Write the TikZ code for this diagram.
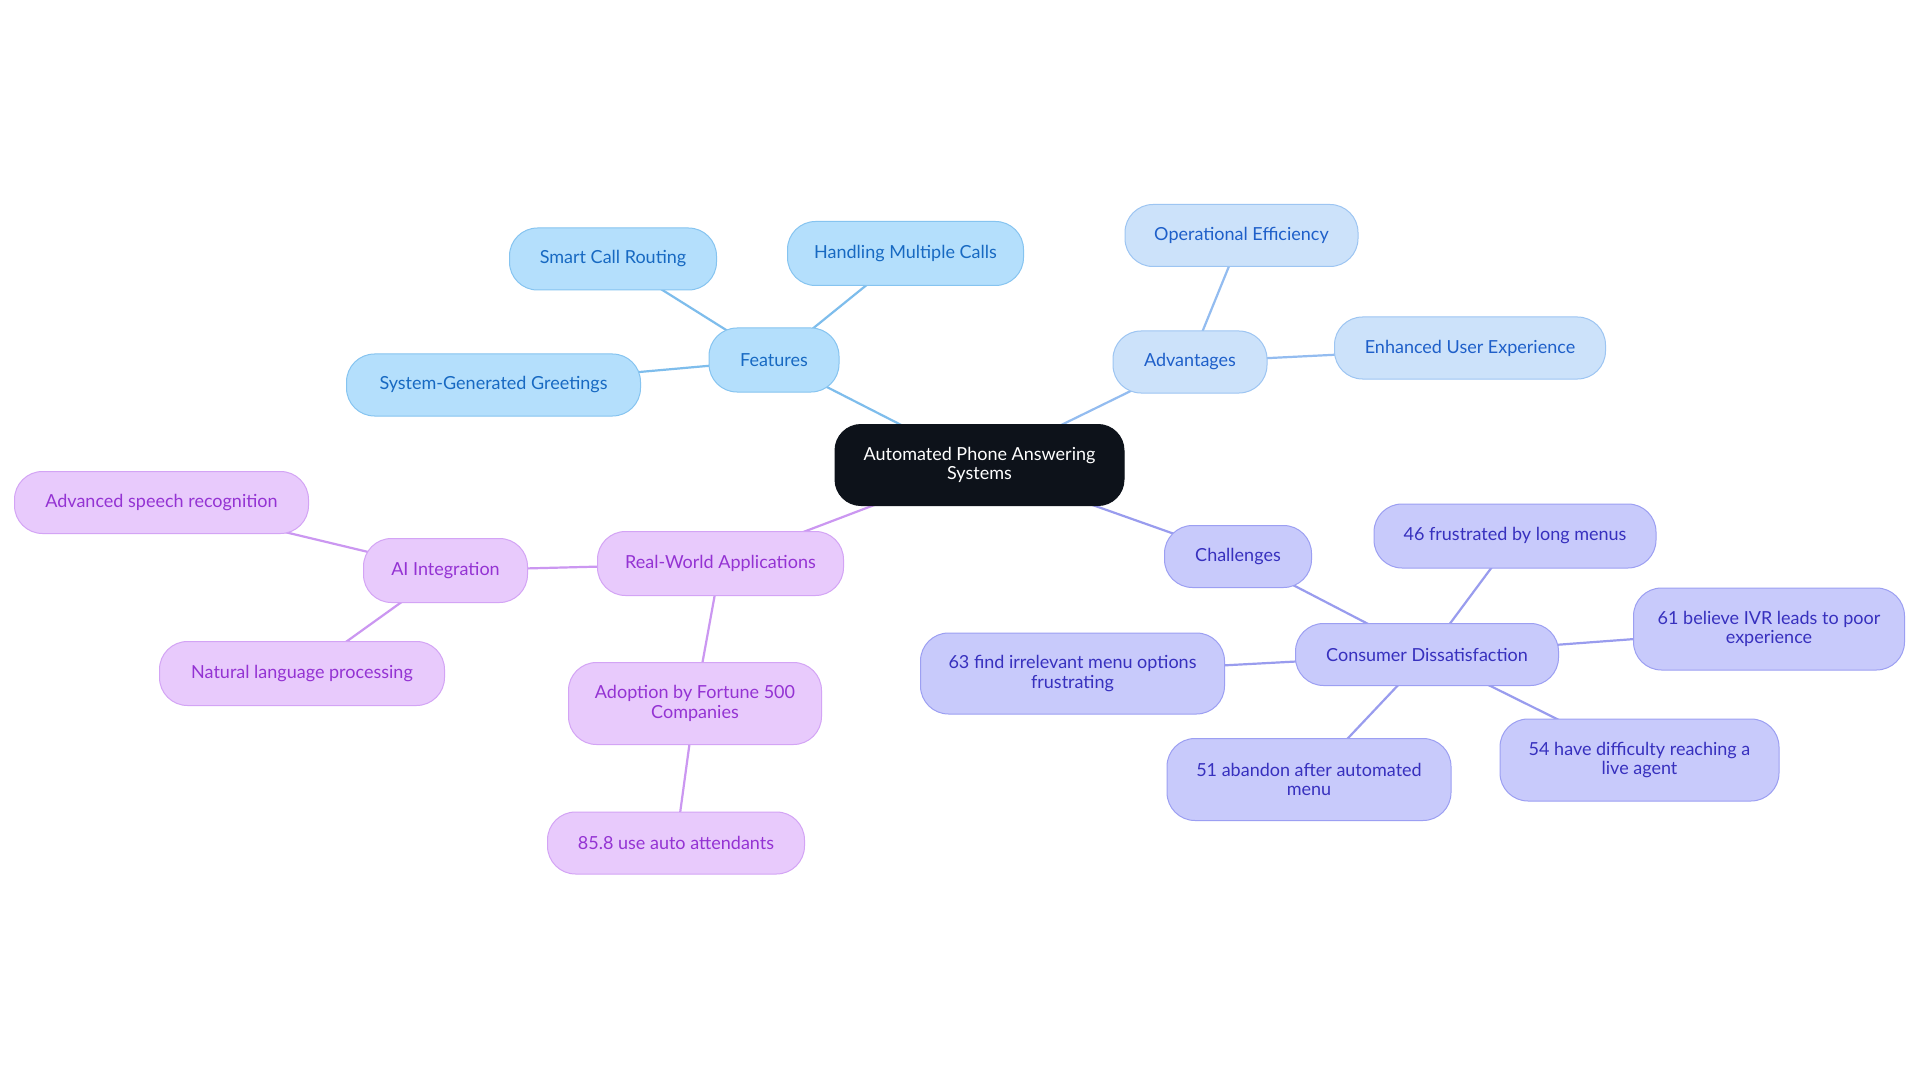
\documentclass[tikz,border=0pt]{standalone}
\usepackage{fontspec}
\setmainfont{Lato}
\usetikzlibrary{backgrounds}
\definecolor{rootfill}{HTML}{0D121A}
\definecolor{featfill}{HTML}{B4DFFC}
\definecolor{featdraw}{HTML}{86C4F0}
\definecolor{feattext}{HTML}{1769C2}
\definecolor{featline}{HTML}{7EBDEC}
\definecolor{advfill}{HTML}{CCE2FA}
\definecolor{advdraw}{HTML}{9DC5F2}
\definecolor{advtext}{HTML}{1E5FC9}
\definecolor{advline}{HTML}{93BCF0}
\definecolor{chalfill}{HTML}{C8CAFB}
\definecolor{chaldraw}{HTML}{9C9FF2}
\definecolor{chaltext}{HTML}{3730BE}
\definecolor{challine}{HTML}{999CEE}
\definecolor{realfill}{HTML}{E8CAFC}
\definecolor{realdraw}{HTML}{D3A4F5}
\definecolor{realtext}{HTML}{9433D3}
\definecolor{realline}{HTML}{CB97F1}
\tikzset{
  base/.style={rounded corners=28pt, minimum height=62pt, align=center,
    font=\fontsize{18}{19.5}\selectfont, line width=1pt, inner sep=0pt},
  feat/.style={base, fill=featfill, draw=featdraw, text=feattext},
  adv/.style={base, fill=advfill, draw=advdraw, text=advtext},
  chal/.style={base, fill=chalfill, draw=chaldraw, text=chaltext},
  real/.style={base, fill=realfill, draw=realdraw, text=realtext},
  rootbox/.style={base, rounded corners=26pt, fill=rootfill, draw=rootfill, text=white},
  featedge/.style={draw=featline, line width=2.2pt},
  advedge/.style={draw=advline, line width=2.2pt},
  chaledge/.style={draw=challine, line width=2.2pt},
  realedge/.style={draw=realline, line width=2.2pt},
}
\begin{document}
\begin{tikzpicture}[x=1pt,y=-1pt]
\useasboundingbox (0,0) rectangle (1920,1083);
% root
\node[rootbox, minimum width=289pt, minimum height=81pt] (root) at (979.5,465) {Automated Phone Answering\\Systems};
% features
\node[feat, minimum width=130pt, minimum height=64pt] (features) at (774,360) {Features};
\node[feat, minimum width=207pt] (smart) at (613,259) {Smart Call Routing};
\node[feat, minimum width=236pt, minimum height=64pt] (handling) at (905.5,253.5) {Handling Multiple Calls};
\node[feat, minimum width=294pt] (greet) at (493.5,385) {System-Generated Greetings};
% advantages
\node[adv, minimum width=154pt] (adv) at (1190,362) {Advantages};
\node[adv, minimum width=233pt] (opeff) at (1241.5,235.5) {Operational Efficiency};
\node[adv, minimum width=271pt] (ux) at (1470,348) {Enhanced User Experience};
% challenges
\node[chal, minimum width=147pt] (chal) at (1238,556.5) {Challenges};
\node[chal, minimum width=263pt] (cons) at (1427,654.5) {Consumer Dissatisfaction};
\node[chal, minimum width=282pt, minimum height=64pt] (c46) at (1515,536) {46 frustrated by long menus};
\node[chal, minimum width=271pt, minimum height=82pt] (c61) at (1769,629) {61 believe IVR leads to poor\\experience};
\node[chal, minimum width=304pt, minimum height=81pt] (c63) at (1072.5,673.5) {63 find irrelevant menu options\\frustrating};
\node[chal, minimum width=284pt, minimum height=82pt] (c51) at (1309,779.5) {51 abandon after automated\\menu};
\node[chal, minimum width=279pt, minimum height=82pt] (c54) at (1639.5,760) {54 have difficulty reaching a\\live agent};
% real-world
\node[real, minimum width=246pt, minimum height=64pt] (realw) at (720.5,563.5) {Real-World Applications};
\node[real, minimum width=164pt, minimum height=64pt] (ai) at (445.5,570.5) {AI Integration};
\node[real, minimum width=294pt] (speech) at (161.5,502.5) {Advanced speech recognition};
\node[real, minimum width=285pt, minimum height=64pt] (nlp) at (302,673.5) {Natural language processing};
\node[real, minimum width=253pt, minimum height=82pt] (fortune) at (695,703.5) {Adoption by Fortune 500\\Companies};
\node[real, minimum width=257pt] (auto) at (676,843) {85.8 use auto attendants};
\begin{pgfonlayer}{background}
\fill[white] (0,0) rectangle (1920,1083);
\draw[featedge] (root.center) -- (features.center);
\draw[featedge] (features.center) -- (smart.center);
\draw[featedge] (features.center) -- (handling.center);
\draw[featedge] (features.center) -- (greet.center);
\draw[advedge] (root.center) -- (adv.center);
\draw[advedge] (adv.center) -- (opeff.center);
\draw[advedge] (adv.center) -- (ux.center);
\draw[chaledge] (root.center) -- (chal.center);
\draw[chaledge] (chal.center) -- (cons.center);
\draw[chaledge] (cons.center) -- (c46.center);
\draw[chaledge] (cons.center) -- (c61.center);
\draw[chaledge] (cons.center) -- (c63.center);
\draw[chaledge] (cons.center) -- (c51.center);
\draw[chaledge] (cons.center) -- (c54.center);
\draw[realedge] (root.center) -- (realw.center);
\draw[realedge] (realw.center) -- (ai.center);
\draw[realedge] (ai.center) -- (speech.center);
\draw[realedge] (ai.center) -- (nlp.center);
\draw[realedge] (realw.center) -- (fortune.center);
\draw[realedge] (fortune.center) -- (auto.center);
\end{pgfonlayer}
\end{tikzpicture}
\end{document}
